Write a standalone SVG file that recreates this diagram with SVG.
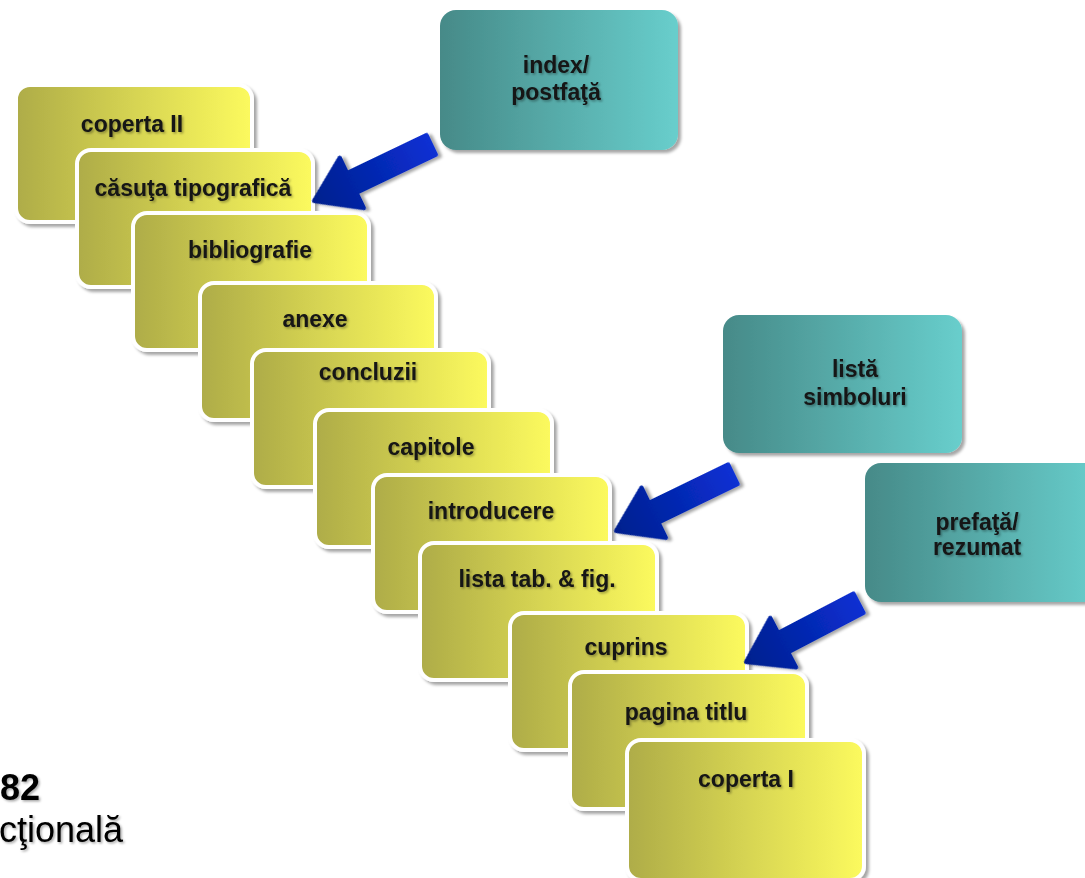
<svg xmlns="http://www.w3.org/2000/svg" width="1085" height="878" viewBox="0 0 1085 878">
  <defs>
    <linearGradient id="gYellow" x1="0" y1="0" x2="1" y2="0">
      <stop offset="0" stop-color="#aeac48"/>
      <stop offset="0.5" stop-color="#d6d452"/>
      <stop offset="1" stop-color="#fcfa5e"/>
    </linearGradient>
    <linearGradient id="gTeal" x1="0" y1="0" x2="1" y2="0">
      <stop offset="0" stop-color="#468a88"/>
      <stop offset="1" stop-color="#68cecc"/>
    </linearGradient>
    <linearGradient id="gArrow" gradientUnits="userSpaceOnUse" x1="0" y1="0" x2="132" y2="0">
      <stop offset="0" stop-color="#001f8e"/>
      <stop offset="1" stop-color="#0a30d4"/>
    </linearGradient>
    <filter id="shadow" x="-10%" y="-10%" width="125%" height="125%">
      <feDropShadow dx="3" dy="3" stdDeviation="1.5" flood-color="#000" flood-opacity="0.35"/>
    </filter>
    <filter id="tshadow" x="-10%" y="-30%" width="125%" height="160%">
      <feDropShadow dx="1.5" dy="1.5" stdDeviation="1" flood-color="#000" flood-opacity="0.35"/>
    </filter>
  </defs>
  <style>
    .card { fill: url(#gYellow); stroke: #ffffff; stroke-width: 4; filter: url(#shadow); }
    .teal { fill: url(#gTeal); filter: url(#shadow); }
    .lbl { font-family: "Liberation Sans", Arial, sans-serif; font-weight: bold; font-size: 23px; fill: #141414; text-anchor: middle; filter: url(#tshadow); }
    .arrow { fill: url(#gArrow); stroke: url(#gArrow); stroke-width: 4; stroke-linejoin: round; filter: url(#shadow); }
    .side { font-family: "Liberation Sans", Arial, sans-serif; font-size: 36px; fill: #000; filter: url(#tshadow); }
  </style>
  <rect width="1085" height="878" fill="#ffffff"/>

  <g id="card-coperta-II"><rect class="card" x="16" y="85" width="236" height="137" rx="14"/><text class="lbl" x="132" y="132">coperta II</text></g>
  <g id="card-casuta"><rect class="card" x="77" y="150" width="236" height="137" rx="14"/><text class="lbl" x="193" y="196">căsuţa tipografică</text></g>
  <g id="card-bibliografie"><rect class="card" x="133" y="213" width="236" height="137" rx="14"/><text class="lbl" x="250" y="258">bibliografie</text></g>
  <g id="card-anexe"><rect class="card" x="200" y="283" width="236" height="137" rx="14"/><text class="lbl" x="315" y="327">anexe</text></g>
  <g id="card-concluzii"><rect class="card" x="252" y="350" width="237" height="137" rx="14"/><text class="lbl" x="368" y="380">concluzii</text></g>
  <g id="card-capitole"><rect class="card" x="315" y="410" width="237" height="137" rx="14"/><text class="lbl" x="431" y="455">capitole</text></g>
  <g id="card-introducere"><rect class="card" x="373" y="475" width="237" height="137" rx="14"/><text class="lbl" x="491" y="519">introducere</text></g>
  <g id="card-lista"><rect class="card" x="420" y="543" width="237" height="137" rx="14"/><text class="lbl" x="537" y="587">lista tab. &amp; fig.</text></g>
  <g id="card-cuprins"><rect class="card" x="510" y="613" width="237" height="137" rx="14"/><text class="lbl" x="626" y="655">cuprins</text></g>
  <g id="card-pagina-titlu"><rect class="card" x="570" y="672" width="237" height="137" rx="14"/><text class="lbl" x="686" y="720">pagina titlu</text></g>
  <g id="card-coperta-I"><rect class="card" x="627" y="740" width="237" height="140" rx="14"/><text class="lbl" x="746" y="787">coperta I</text></g>

  <g id="box-index"><rect class="teal" x="440" y="10" width="238" height="140" rx="16"/><text class="lbl" x="556" y="73">index/</text><text class="lbl" x="556" y="100">postfaţă</text></g>
  <g id="box-lista-simboluri"><rect class="teal" x="723" y="315" width="239" height="138" rx="16"/><text class="lbl" x="855" y="377">listă</text><text class="lbl" x="855" y="405">simboluri</text></g>
  <g id="box-prefata"><rect class="teal" x="865" y="463" width="238" height="139" rx="16"/><text class="lbl" x="977" y="530">prefaţă/</text><text class="lbl" x="977" y="555">rezumat</text></g>

  <g id="connectors">
    <path class="arrow" transform="translate(314,201) rotate(-25.6)" d="M0,0 L42,-28 L42,-11 L130,-11 L130,11 L42,11 L42,28 Z"/>
    <path class="arrow" transform="translate(616,531) rotate(-25.9)" d="M0,0 L42,-28 L42,-11 L130,-11 L130,11 L42,11 L42,28 Z"/>
    <path class="arrow" transform="translate(746,662) rotate(-27.6)" d="M0,0 L42,-28 L42,-11 L127,-11 L127,11 L42,11 L42,28 Z"/>
  </g>

  <text class="side" x="0" y="800" font-weight="bold">82</text>
  <text class="side" x="-1" y="842">cţională</text>
</svg>
